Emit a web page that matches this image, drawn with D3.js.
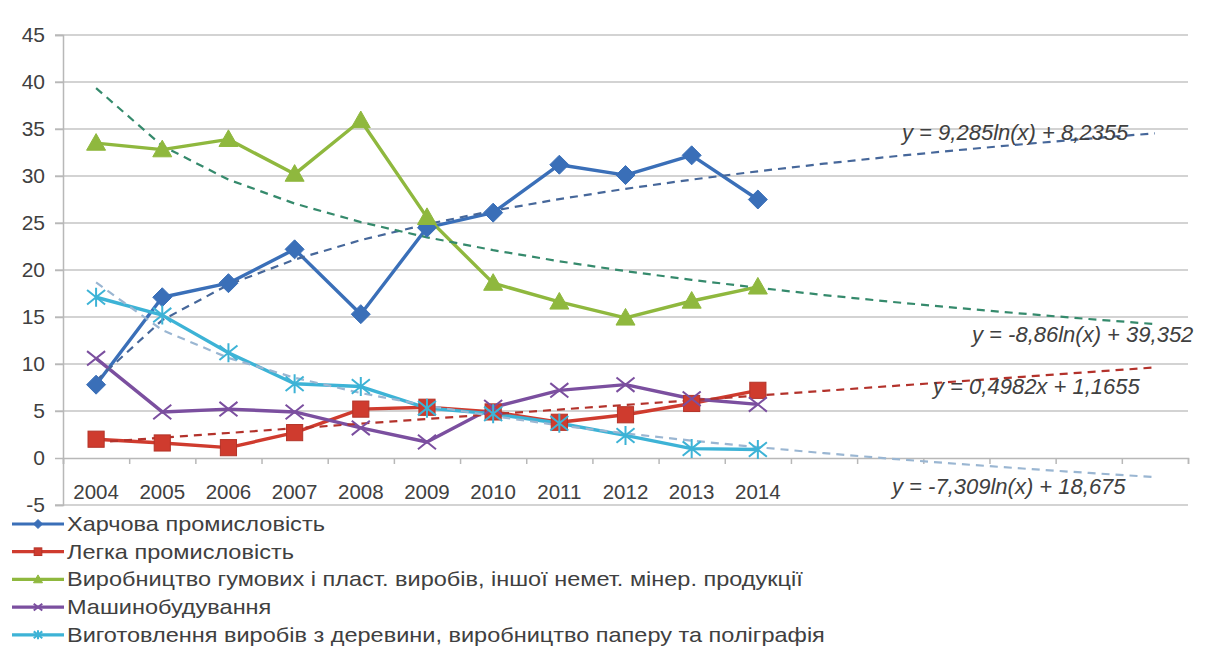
<!DOCTYPE html>
<html>
<head>
<meta charset="utf-8">
<script src="https://cdn.jsdelivr.net/npm/d3@7"></script>
<style>
  body { margin: 0; background: #fff; }
  text { font-family: "Liberation Sans", Arial, sans-serif; fill: #404040; }
</style>
</head>
<body>
<script>
let W = 1208, H = 662;

// data
let years = ["2004","2005","2006","2007","2008","2009","2010","2011","2012","2013","2014"];
let food    = [7.8, 17.1, 18.6, 22.2, 15.3, 24.5, 26.1, 31.2, 30.1, 32.2, 27.5];
let light   = [2.0, 1.6, 1.1, 2.7, 5.2, 5.4, 4.9, 3.8, 4.6, 5.8, 7.2];
let rubber  = [33.5, 32.8, 33.9, 30.2, 35.9, 25.6, 18.6, 16.6, 14.9, 16.7, 18.2];
let machine = [10.6, 4.9, 5.2, 4.9, 3.2, 1.7, 5.4, 7.2, 7.8, 6.3, 5.7];
let wood    = [17.1, 15.2, 11.2, 7.9, 7.6, 5.3, 4.7, 3.7, 2.4, 1.0, 0.9];

let names = ["Харчова промисловість", "Легка промисловість",
  "Виробництво гумових і пласт. виробів, іншої немет. мінер. продукції",
  "Машинобудування",
  "Виготовлення виробів з деревини, виробництво паперу та поліграфія"];
let colors = ["#3a6fb8", "#cf3b2e", "#8fb83e", "#7b4f9f", "#3db3d6"];
let markers = ["diamond", "square", "triangle", "x", "star"];
let yTicks = [-5, 0, 5, 10, 15, 20, 25, 30, 35, 40, 45];

// trend lines (Excel equations shown on the chart), 6 periods forecast
let trendKind   = ["log", "lin", "log", "log"];
let trendA      = [9.285, 0.4982, -8.86, -7.309];
let trendB      = [8.2355, 1.1655, 39.352, 18.675];
let trendColor  = ["#46679a", "#b3322b", "#358a6c", "#9ab6d2"];
let trendLabel  = ["y = 9,285ln(x) + 8,2355", "y = 0,4982x + 1,1655",
                   "y = -8,86ln(x) + 39,352", "y = -7,309ln(x) + 18,675"];
let nPeriods = 17;

let series = [food, light, rubber, machine, wood];

let svg = d3.select("body").append("svg").attr("width", W).attr("height", H);

let x = d3.scaleBand().domain(d3.range(1, nPeriods + 1)).range([63, 1188]);
let xEdge = d3.scaleLinear().domain([0, nPeriods]).range([63, 1188]);
let y = d3.scaleLinear().domain([-5, 45]).range([505, 35]);
let cx = i => x(i) + x.bandwidth() / 2;

// gridlines
svg.append("g").selectAll("line").data(yTicks.filter(d => d !== 0)).enter().append("line")
  .attr("x1", 55).attr("x2", 1188).attr("y1", d => y(d)).attr("y2", d => y(d))
  .attr("stroke", "#c4c4c4").attr("stroke-width", 1.5);

// y axis
let yAxis = svg.append("g").attr("transform", "translate(63,0)")
  .call(d3.axisLeft(y).tickValues(yTicks).tickSize(8).tickPadding(10).tickFormat(d => String(d)));
yAxis.select(".domain").attr("stroke", "#b8b8b8").attr("stroke-width", 1.5);
yAxis.selectAll(".tick line").attr("stroke", "#b8b8b8").attr("stroke-width", 1.5);
yAxis.selectAll("text").style("font-size", "21px").attr("fill", "#404040");

// x axis at zero
let xAxis = svg.append("g").attr("transform", "translate(0," + y(0) + ")")
  .call(d3.axisBottom(xEdge).ticks(nPeriods).tickSize(6).tickFormat(""));
xAxis.select(".domain").attr("stroke", "#b8b8b8").attr("stroke-width", 1.5);
xAxis.selectAll(".tick line").attr("stroke", "#b8b8b8").attr("stroke-width", 1.5);

svg.append("g").selectAll("text").data(years).enter().append("text")
  .attr("x", (d, i) => cx(i + 1)).attr("y", 499)
  .attr("text-anchor", "middle").style("font-size", "20.5px").text(d => d);

// series lines
let line = d3.line().x((d, i) => cx(i + 1)).y(d => y(d));
series.forEach((s, k) => {
  svg.append("path").datum(s).attr("d", line)
    .attr("fill", "none").attr("stroke", colors[k]).attr("stroke-width", 3.4)
    .attr("stroke-linejoin", "round");
});

// trend lines
trendKind.forEach((kind, t) => {
  let pts = d3.range(1, nPeriods + 1).map(p =>
    [cx(p), y(kind === "log" ? trendA[t] * Math.log(p) + trendB[t] : trendA[t] * p + trendB[t])]);
  svg.append("path").datum(pts).attr("d", d3.line())
    .attr("fill", "none").attr("stroke", trendColor[t]).attr("stroke-width", 2.2)
    .attr("stroke-dasharray", "8,6");
});

function drawMarker(g, type, color, size) {
  let r = size / 2;
  if (type === "diamond") {
    g.append("path").attr("d", "M0," + (-r) + "L" + r + ",0L0," + r + "L" + (-r) + ",0Z")
      .attr("fill", color).attr("stroke", color).attr("stroke-width", 1);
  } else if (type === "square") {
    let q = r * 0.85;
    g.append("rect").attr("x", -q).attr("y", -q).attr("width", 2 * q).attr("height", 2 * q)
      .attr("fill", color).attr("stroke", d3.color(color).darker(0.4)).attr("stroke-width", 1);
  } else if (type === "triangle") {
    g.append("path").attr("d", "M0," + (-r) + "L" + r + "," + (r * 0.75) + "L" + (-r) + "," + (r * 0.75) + "Z")
      .attr("fill", color).attr("stroke", color).attr("stroke-width", 1);
  } else {
    let q = r * 0.95;
    let p = "M" + (-q) + "," + (-q * 0.8) + "L" + q + "," + (q * 0.8) + "M" + (-q) + "," + (q * 0.8) + "L" + q + "," + (-q * 0.8);
    if (type === "star") p += "M0," + (-r) + "L0," + r;
    g.append("path").attr("d", p).attr("fill", "none").attr("stroke", color).attr("stroke-width", 2);
  }
}

series.forEach((s, k) => {
  s.forEach((v, i) => {
    let g = svg.append("g").attr("transform", "translate(" + cx(i + 1) + "," + y(v) + ")");
    drawMarker(g, markers[k], colors[k], 19);
  });
});

// trend equations
let eqPos = [[902, 140], [933, 394], [972, 342], [892, 494]];
svg.append("g").selectAll("text").data(trendLabel).enter().append("text")
  .attr("x", (d, i) => eqPos[i][0]).attr("y", (d, i) => eqPos[i][1])
  .style("font-size", "22px").style("font-style", "italic").attr("fill", "#404040")
  .text(d => d);

// legend
let leg = svg.append("g");
names.forEach((n, k) => {
  let ly = 524 + k * 27.7;
  let g = leg.append("g").attr("transform", "translate(0," + ly + ")");
  g.append("line").attr("x1", 12).attr("x2", 64).attr("y1", 0).attr("y2", 0)
    .attr("stroke", colors[k]).attr("stroke-width", 3.2);
  drawMarker(g.append("g").attr("transform", "translate(38,0)"), markers[k], colors[k], 9);
  g.append("text").attr("transform", "translate(67,7) scale(1.12,1)")
    .style("font-size", "21px").attr("fill", "#222").text(n);
});
</script>
</body>
</html>
